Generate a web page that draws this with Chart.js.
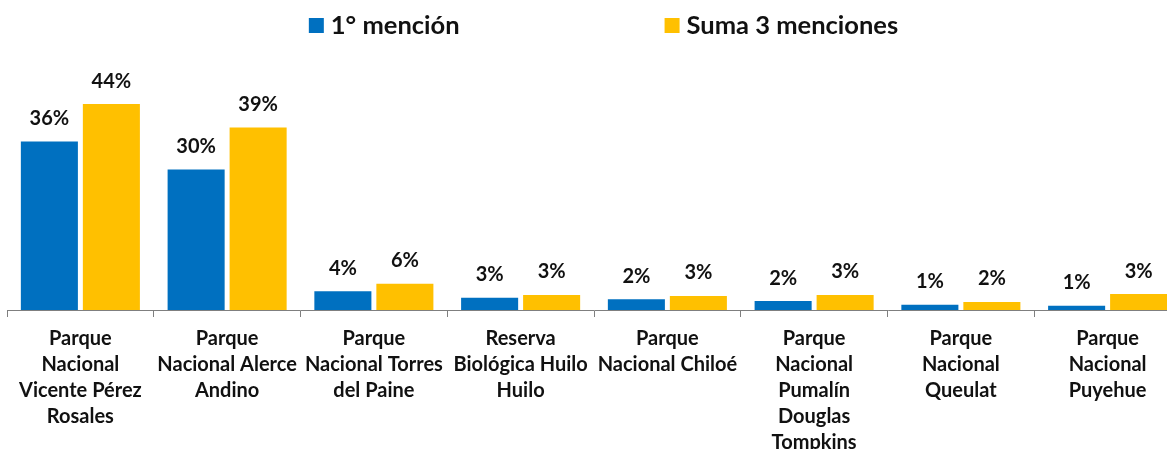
<!DOCTYPE html>
<html>
<head>
<meta charset="utf-8">
<script src="https://cdn.jsdelivr.net/npm/chart.js@4.4.0/dist/chart.umd.min.js"></script>
<style>
  html, body { margin: 0; padding: 0; background: #fff; overflow: hidden; }
  #wrap { position: relative; width: 1181px; height: 480px; }
</style>
</head>
<body>
<div id="wrap"><canvas id="chart"></canvas></div>
<script>
const categories = [
  ["Parque", "Nacional", "Vicente Pérez", "Rosales"],
  ["Parque", "Nacional Alerce", "Andino"],
  ["Parque", "Nacional Torres", "del Paine"],
  ["Reserva", "Biológica Huilo", "Huilo"],
  ["Parque", "Nacional Chiloé"],
  ["Parque", "Nacional", "Pumalín", "Douglas", "Tompkins"],
  ["Parque", "Nacional", "Queulat"],
  ["Parque", "Nacional", "Puyehue"],
];
const primeraMencion = [36, 30, 4, 2.6, 2.3, 1.9, 1.1, 0.9];
const sumaTresMenciones = [44, 39, 5.6, 3.2, 3, 3.2, 1.7, 3.4];
const seriesNames = ["1° mención", "Suma 3 menciones"];
const seriesColors = ["#0070C0", "#FFC000"];

const FONT = "Lato";

const valueLabels = {
  id: "valueLabels",
  afterDatasetsDraw(chart) {
    const ctx = chart.ctx;
    ctx.save();
    ctx.font = `bold 20px ${FONT}`;
    ctx.fillStyle = "#111";
    ctx.textAlign = "center";
    ctx.textBaseline = "middle";
    chart.data.datasets.forEach((ds, i) => {
      chart.getDatasetMeta(i).data.forEach((bar, j) => {
        ctx.fillText(Math.round(ds.data[j]) + "%", bar.x, bar.y - 23);
      });
    });
    ctx.restore();
  },
};

// legend drawn by hand so the gap between the two items can be wide
const topLegend = {
  id: "topLegend",
  afterDraw(chart) {
    const ctx = chart.ctx;
    ctx.save();
    ctx.font = `bold 25.5px ${FONT}`;
    ctx.textBaseline = "middle";
    ctx.textAlign = "left";
    const box = 15, boxGap = 7, itemGap = 205;
    const widths = chart.data.datasets.map((ds) => box + boxGap + ctx.measureText(ds.label).width);
    const total = widths.reduce((a, b) => a + b, 0) + itemGap * (widths.length - 1);
    let x = 603.5 - total / 2;
    const y = 25.5;
    chart.data.datasets.forEach((ds, i) => {
      ctx.fillStyle = ds.backgroundColor;
      ctx.fillRect(x, y - 7.5, box, box);
      ctx.fillStyle = "#111";
      ctx.fillText(ds.label, x + box + boxGap, y);
      x += widths[i] + itemGap;
    });
    ctx.restore();
  },
};

new Chart(document.getElementById("chart"), {
  type: "bar",
  data: {
    labels: categories,
    datasets: [
      {
        label: seriesNames[0],
        data: primeraMencion,
        backgroundColor: seriesColors[0],
        categoryPercentage: 0.845,
        barPercentage: 0.92,
      },
      {
        label: seriesNames[1],
        data: sumaTresMenciones,
        backgroundColor: seriesColors[1],
        categoryPercentage: 0.845,
        barPercentage: 0.92,
      },
    ],
  },
  options: {
    responsive: true,
    maintainAspectRatio: false,
    animation: false,
    layout: { padding: { left: 7, right: 0, top: 76, bottom: 15 } },
    plugins: {
      legend: { display: false },
      tooltip: { enabled: false },
    },
    scales: {
      x: {
        grid: {
          display: true,
          drawOnChartArea: false,
          drawTicks: true,
          tickLength: 7,
          offset: true,
          color: "#7f7f7f",
        },
        border: { display: true, color: "#7f7f7f", width: 1 },
        ticks: {
          color: "#111",
          padding: 9,
          maxRotation: 0,
          autoSkip: false,
          font: { family: FONT, size: 20, weight: "bold", lineHeight: 1.3 },
        },
      },
      y: {
        display: false,
        min: 0,
        max: 50,
      },
    },
  },
  plugins: [valueLabels, topLegend],
});
</script>
</body>
</html>
